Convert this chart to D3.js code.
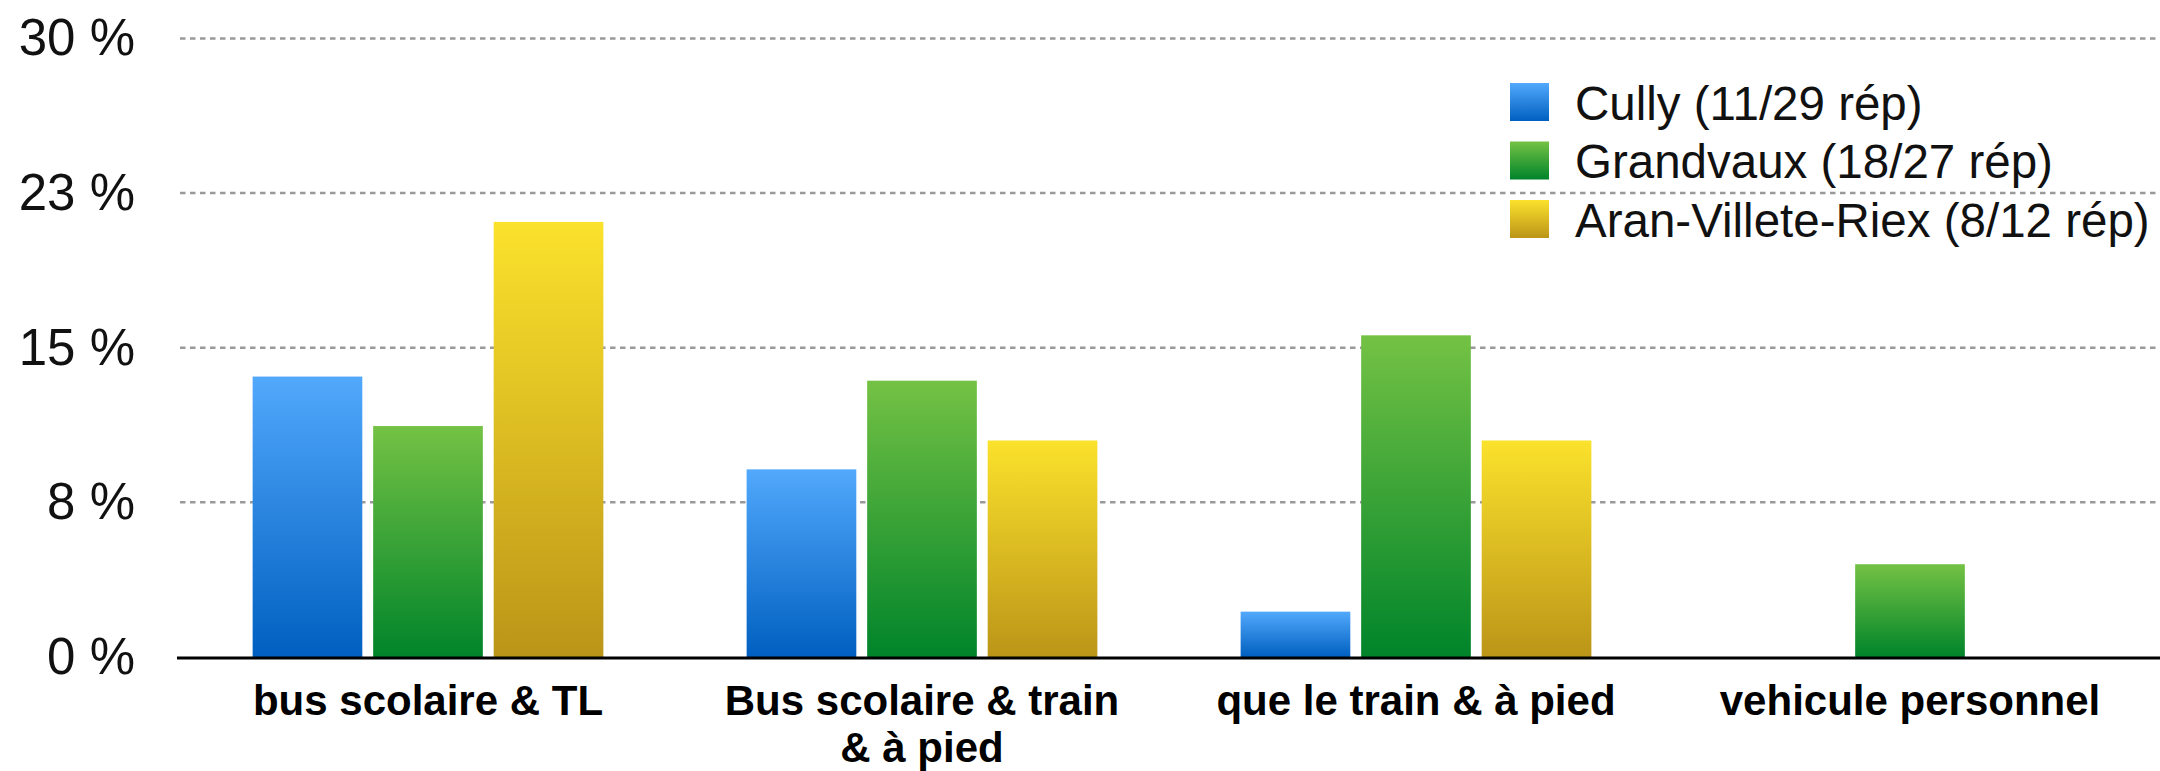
<!DOCTYPE html>
<html>
<head>
<meta charset="utf-8">
<style>
  body { margin: 0; background: #fff; }
  .tick-label { font-family: "Liberation Sans", Arial, sans-serif; font-size: 51px; fill: #111; }
  .legend text { font-family: "Liberation Sans", Arial, sans-serif; font-size: 47.5px; fill: #111; }
  .x.axis text { font-family: "Liberation Sans", Arial, sans-serif; font-weight: bold; font-size: 42px; fill: #000; }
  .grid line { stroke: #9a9a9a; stroke-width: 2.5; stroke-dasharray: 5.5 4.5; }
</style>
</head>
<body>
<script src="https://d3js.org/d3.v7.min.js"></script>
<script>
// categories and series
var categories = ["bus scolaire & TL", "Bus scolaire & train & à pied", "que le train & à pied", "vehicule personnel"];
var seriesNames = ["Cully (11/29 rép)", "Grandvaux (18/27 rép)", "Aran-Villete-Riex (8/12 rép)"];

// values in %
var cully     = [13.6, 9.1, 2.2, 0];
var grandvaux = [11.2, 13.4, 15.6, 4.5];
var aran      = [21.1, 10.5, 10.5, 0];

var tickValues = [0, 7.5, 15, 22.5, 30];
var tickLabels = ["0 %", "8 %", "15 %", "23 %", "30 %"];

var seriesValues = [cully, grandvaux, aran];
var gradStops = [
  ["#52a9fc", "#005fc0"],
  ["#74c244", "#00842a"],
  ["#fbe22c", "#bb9518"]
];

var width = 2160, height = 771;

var svg = d3.select("body").append("svg")
    .attr("width", width)
    .attr("height", height);

var x0 = d3.scaleBand()
    .domain(categories)
    .range([181, 2157])
    .paddingInner(0.29)
    .paddingOuter(0.145);

var x1 = d3.scaleBand()
    .domain(d3.range(seriesNames.length))
    .range([0, x0.bandwidth()])
    .paddingInner(0.09);

var y = d3.scaleLinear()
    .domain([0, 30])
    .range([657, 38.4]);

// gradients
var defs = svg.append("defs");
gradStops.forEach(function(s, i) {
  var g = defs.append("linearGradient")
    .attr("id", "grad" + i)
    .attr("x1", 0).attr("y1", 0).attr("x2", 0).attr("y2", 1);
  g.append("stop").attr("offset", "0%").attr("stop-color", s[0]);
  g.append("stop").attr("offset", "100%").attr("stop-color", s[1]);
});

// grid lines
svg.append("g")
    .attr("class", "grid")
    .selectAll("line")
    .data(tickValues.filter(function(d) { return d > 0; }))
    .enter().append("line")
    .attr("x1", 180)
    .attr("x2", width)
    .attr("y1", function(d) { return y(d); })
    .attr("y2", function(d) { return y(d); });

// y axis labels
var yAxis = d3.axisLeft(y)
    .tickValues(tickValues)
    .tickFormat(function(d, i) { return tickLabels[i]; })
    .tickSize(0)
    .tickPadding(42);

var yg = svg.append("g")
    .attr("class", "y axis")
    .attr("transform", "translate(177,0)")
    .call(yAxis);
yg.select(".domain").remove();
yg.selectAll("text")
    .attr("class", "tick-label")
    .attr("font-family", null)
    .attr("font-size", null);

// bars
var rows = categories.map(function(c, ci) {
  return { cat: c, vals: seriesValues.map(function(s) { return s[ci]; }) };
});

var group = svg.selectAll("g.group")
    .data(rows)
    .enter().append("g")
    .attr("class", "group")
    .attr("transform", function(d) { return "translate(" + x0(d.cat) + ",0)"; });

group.selectAll("rect")
    .data(function(d) { return d.vals.map(function(v, i) { return { i: i, v: v }; }); })
    .enter().append("rect")
    .filter(function(d) { return d.v > 0; })
    .attr("x", function(d) { return x1(d.i); })
    .attr("width", x1.bandwidth())
    .attr("y", function(d) { return y(d.v); })
    .attr("height", function(d) { return y(0) - y(d.v); })
    .attr("fill", function(d) { return "url(#grad" + d.i + ")"; });

// x axis
var xAxis = d3.axisBottom(x0)
    .tickSize(0)
    .tickPadding(27);

var xg = svg.append("g")
    .attr("class", "x axis")
    .attr("transform", "translate(0,658)")
    .call(xAxis);
xg.select(".domain").remove();
xg.selectAll("text")
    .attr("font-family", null)
    .attr("font-size", null)
    .call(wrap, 420);

svg.append("line")
    .attr("x1", 177)
    .attr("x2", width)
    .attr("y1", 658)
    .attr("y2", 658)
    .attr("stroke", "#000")
    .attr("stroke-width", 3);

// legend
var legend = svg.append("g")
    .attr("class", "legend")
    .selectAll("g")
    .data(seriesNames)
    .enter().append("g")
    .attr("transform", function(d, i) { return "translate(1510," + (83 + i * 58.5) + ")"; });

legend.append("rect")
    .attr("width", 39)
    .attr("height", 38)
    .attr("fill", function(d, i) { return "url(#grad" + i + ")"; });

legend.append("text")
    .attr("x", 65)
    .attr("y", 36.5)
    .text(function(d) { return d; });

function wrap(text, w) {
  text.each(function() {
    var t = d3.select(this),
        words = t.text().split(/\s+/),
        yy = t.attr("y"),
        lines = [], line = [];
    t.text(null);
    var probe = t.append("tspan");
    words.forEach(function(word) {
      line.push(word);
      probe.text(line.join(" "));
      if (probe.node().getComputedTextLength() > w && line.length > 1) {
        line.pop();
        lines.push(line.join(" "));
        line = [word];
      }
    });
    lines.push(line.join(" "));
    probe.remove();
    lines.forEach(function(l, i) {
      t.append("tspan")
        .attr("x", 0)
        .attr("y", yy)
        .attr("dy", (0.71 + i * 1.12) + "em")
        .text(l);
    });
  });
}
</script>
</body>
</html>
